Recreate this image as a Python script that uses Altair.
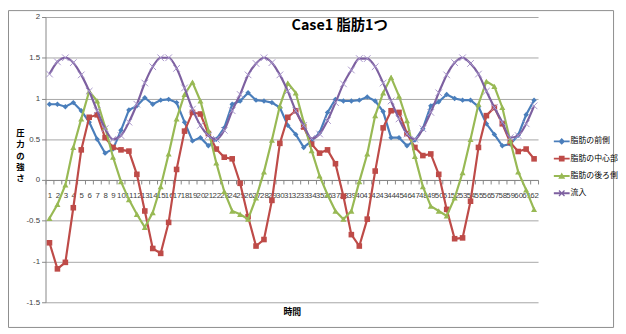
import altair as alt
import pandas as pd

times = list(range(1, 63))
names = ["脂肪の前側", "脂肪の中心部", "脂肪の後ろ側", "流入"]

front = [0.93, 0.93, 0.90, 0.95, 0.85, 0.71, 0.50, 0.33, 0.38, 0.61,
         0.86, 0.91, 1.01, 0.93, 0.98, 0.99, 0.95, 0.71, 0.48, 0.52,
         0.42, 0.50, 0.64, 0.93, 0.97, 1.07, 0.98, 0.97, 0.95, 0.89,
         0.67, 0.56, 0.40, 0.48, 0.58, 0.83, 0.99, 0.97, 0.97, 0.98,
         1.02, 0.97, 0.84, 0.52, 0.52, 0.42, 0.49, 0.63, 0.91, 0.96,
         1.05, 1.00, 0.98, 0.98, 0.90, 0.69, 0.56, 0.42, 0.44, 0.55,
         0.80, 0.98]
center = [-0.77, -1.09, -1.01, -0.34, 0.37, 0.77, 0.80, 0.52, 0.40, 0.37,
          0.355, 0.07, -0.38, -0.84, -0.90, -0.52, 0.13, 0.60, 0.83, 0.81,
          0.57, 0.38, 0.28, 0.26, -0.04, -0.45, -0.81, -0.73, -0.25, 0.45,
          0.77, 0.85, 0.65, 0.44, 0.33, 0.37, 0.20, -0.20, -0.67, -0.81,
          -0.48, 0.11, 0.64, 0.85, 0.83, 0.57, 0.40, 0.30, 0.32, 0.07,
          -0.36, -0.72, -0.71, -0.26, 0.40, 0.79, 0.89, 0.69, 0.46, 0.35,
          0.38, 0.26]
back = [-0.47, -0.30, -0.06, 0.40, 0.75, 1.09, 0.97, 0.65, 0.28, -0.02,
        -0.24, -0.42, -0.58, -0.40, -0.08, 0.32, 0.75, 1.05, 1.20, 0.97,
        0.61, 0.21, -0.14, -0.38, -0.42, -0.48, -0.22, 0.10, 0.49, 0.91,
        1.19, 1.07, 0.71, 0.36, 0.05, -0.18, -0.38, -0.48, -0.38, -0.02,
        0.32, 0.79, 1.07, 1.26, 1.03, 0.73, 0.29, -0.08, -0.32, -0.38,
        -0.44, -0.22, 0.09, 0.50, 0.93, 1.21, 1.15, 0.89, 0.48, 0.10,
        -0.12, -0.36]
inflow = [1.30, 1.45, 1.50, 1.44, 1.29, 1.09, 0.85, 0.63, 0.50, 0.545,
          0.71, 0.93, 1.19, 1.39, 1.50, 1.50, 1.37, 1.13, 0.87, 0.67,
          0.545, 0.50, 0.61, 0.85, 1.05, 1.29, 1.43, 1.50, 1.44, 1.29,
          1.09, 0.85, 0.67, 0.51, 0.565, 0.73, 0.95, 1.18, 1.35, 1.49,
          1.49, 1.39, 1.19, 0.97, 0.75, 0.565, 0.50, 0.63, 0.83, 1.07,
          1.29, 1.44, 1.50, 1.43, 1.30, 1.09, 0.89, 0.71, 0.52, 0.545,
          0.69, 0.91]

colors = ["#4A7EBB", "#BE4B48", "#98B954", "#7D60A0"]
y_ticks = [-1.5, -1.0, -0.5, 0.0, 0.5, 1.0, 1.5, 2.0]
y_domain = [-1.5, 2.0]
title_text = "Case1 脂肪1つ"
x_title = "時間"
y_title = "圧力の強さ"

rows = []
for name, vals in zip(names, [front, center, back, inflow]):
    for t, v in zip(times, vals):
        rows.append({"t": t, "series": name, "value": v})
df = pd.DataFrame(rows)

W, H = 499, 289
y_zero_px = H * (y_domain[1] - 0) / (y_domain[1] - y_domain[0])
x_scale = alt.Scale(domain=[times[0] - 0.5, times[-1] + 0.5], nice=False, zero=False)
y_scale = alt.Scale(domain=y_domain, nice=False, zero=False)
x_tick_values = [t - 0.5 for t in times] + [times[-1] + 0.5]

AX = "#868686"
LBL = "#404040"
FONT = "Liberation Sans"
JP = "Noto Sans CJK JP"

# axis 1: domain line + ticks between categories
x_axis_ticks = alt.Axis(
    orient="bottom", values=x_tick_values, labels=False, offset=-(H - y_zero_px),
    grid=False, domainColor=AX, tickColor=AX, tickSize=4, title=None,
)
# axis 2: category labels + axis title
x_axis_labels = alt.Axis(
    orient="bottom", values=times, offset=-(H - y_zero_px), grid=False,
    domain=False, ticks=False, labelFontSize=8, labelColor=LBL, labelFont=FONT,
    labelOverlap=False, labelPadding=12, labelFlush=False, labelBound=False,
    format="d",
    title=x_title, titleFont=JP, titleFontSize=9, titleFontWeight="bold",
    titleColor="#000000", titleY=133, titleBaseline="middle",
)
y_axis = alt.Axis(
    orient="left", values=y_ticks, labelExpr="'' + datum.value", grid=True,
    gridColor="#A6A6A6", domainColor=AX, tickColor=AX, tickSize=4,
    labelFontSize=8, labelColor=LBL, labelFont=FONT, labelPadding=2,
    title=list(y_title), titleAngle=0, titleX=-26, titleY=113,
    titleAlign="center", titleBaseline="top", titleLineHeight=11.5,
    titleFont=JP, titleFontSize=8.5, titleFontWeight="bold", titleColor="#000000",
)

base = alt.Chart(df)

layers = []
# border of the chart area
border = alt.Chart(pd.DataFrame({"a": [0]})).mark_rect(
    filled=False, stroke="#8C8C8C", strokeWidth=1
).encode(x=alt.value(-37.5), x2=alt.value(575.5), y=alt.value(-6.5), y2=alt.value(314.5))
layers.append(border)

shapes = ["diamond", "square", "triangle-up", "M-1,-1L1,1M-1,1L1,-1"]
sizes = [30, 32, 38, 45]
for i, (name, col) in enumerate(zip(names, colors)):
    s = base.transform_filter(alt.datum.series == name)
    line_x = x_axis_ticks if i == 0 else None
    pts_x = x_axis_labels if i == 0 else None
    yax = y_axis if i == 0 else None
    line = s.mark_line(
        color=col, strokeWidth=2.2,
        interpolate="monotone" if name == "流入" else "linear",
    ).encode(
        x=alt.X("t:Q", scale=x_scale, axis=line_x),
        y=alt.Y("value:Q", scale=y_scale, axis=yax),
    )
    penc = dict(
        x=alt.X("t:Q", scale=x_scale, axis=pts_x),
        y=alt.Y("value:Q", scale=y_scale, axis=None),
    )
    if name == "流入":
        pts = s.mark_point(shape=shapes[i], size=sizes[i], filled=False,
                           stroke="#A895CA", strokeWidth=1, opacity=1).encode(**penc)
    else:
        pts = s.mark_point(shape=shapes[i], size=sizes[i], filled=True,
                           color=col, opacity=1).encode(**penc)
    layers += [line, pts]

# legend-only layer (invisible marks) with line+marker symbols
legend_paths = [
    "M-1,-0.12H1V0.12H-1Z M0,-0.42L0.42,0L0,0.42L-0.42,0Z",
    "M-1,-0.12H1V0.12H-1Z M-0.36,-0.36H0.36V0.36H-0.36Z",
    "M-1,-0.12H1V0.12H-1Z M0,-0.44L0.44,0.36L-0.44,0.36Z",
    "M-1,-0.12H1V0.12H-1Z M-0.293,-0.407L0.407,0.293L0.293,0.407L-0.407,-0.293Z "
    "M-0.293,0.407L-0.407,0.293L0.293,-0.407L0.407,-0.293Z",
]
leg = alt.Legend(
    title=None, orient="none", legendX=515, legendY=118, padding=0,
    symbolSize=256, symbolOpacity=1, symbolStrokeWidth=0,
    labelFont=JP, labelFontSize=8, labelColor="#000000", labelOffset=1,
    rowPadding=5.5, labelLimit=200,
)
legend_layer = base.mark_point(filled=True).encode(
    x=alt.X("t:Q", scale=x_scale, axis=None),
    y=alt.Y("value:Q", scale=y_scale, axis=None),
    color=alt.Color("series:N", scale=alt.Scale(domain=names, range=colors), legend=leg,
                    sort=names),
    shape=alt.Shape("series:N", scale=alt.Scale(domain=names, range=legend_paths), legend=leg,
                    sort=names),
    opacity=alt.value(0),
)
layers.append(legend_layer)

chart = alt.layer(*layers).resolve_axis(x="independent", y="independent").properties(
    width=W, height=H,
    autosize=alt.AutoSizeParams(type="none"),
    padding={"left": 38, "top": 7, "right": 81, "bottom": 30},
    title=alt.TitleParams(
        text=title_text, anchor="middle", frame="group", offset=0, dx=48.5, dy=31,
        baseline="middle", fontSize=14.5, fontWeight="bold", font=JP, color="#000000",
    ),
    background="white",
).configure_view(stroke=None)

chart.save("out.html", embed_options={"renderer": "svg", "actions": False})
